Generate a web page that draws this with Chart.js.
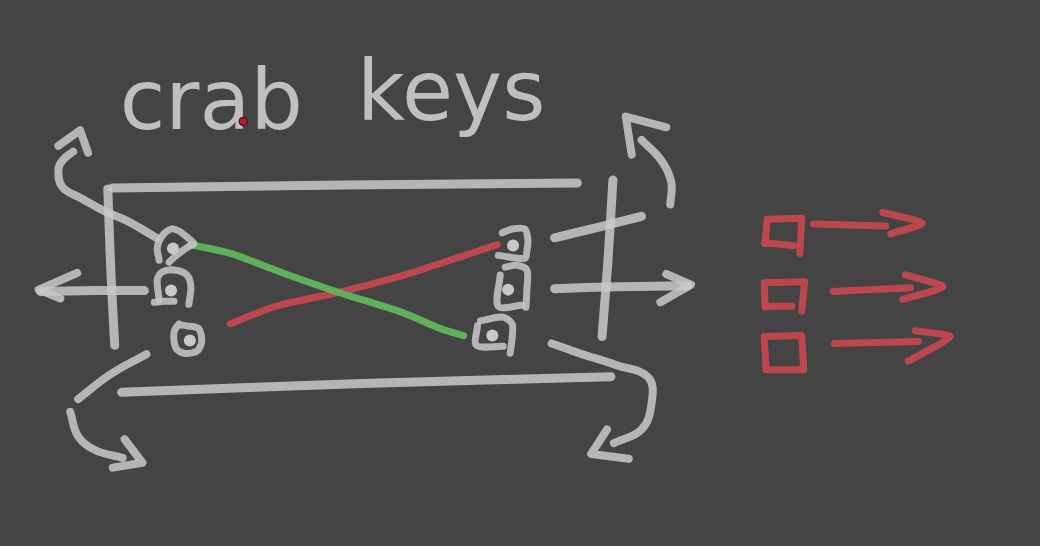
<!DOCTYPE html>
<html>
<head>
<meta charset="utf-8">
<script src="https://cdn.jsdelivr.net/npm/chart.js@4"></script>
<style>
html,body{margin:0;padding:0;background:#444444;}
#wrap{width:1040px;height:546px;position:relative;}
</style>
</head>
<body>
<div id="wrap"><canvas id="c"></canvas></div>
<script>
// ---- data (sketch space: x 0..1040, y 0..546 from top) ----
const titleWords = ['crab', 'keys'];
const titleAnchors = [[115, 126], [355, 117]];

// gray frame strokes
const topRail = [[108,186],[340,183],[578,181]];
const bottomRail = [[117,395],[360,386],[612,379]];
const leftPost = [[103,187],[106,270],[110,347]];
const rightPost = [[614,178],[609,260],[603,338]];
const leftShaft = [[35,292],[90,291],[140,291]];
const leftHead = [[72,273],[33,290],[55,299]];
const rightShaft = [[555,289],[620,287],[690,286]];
const rightHead = [[668,274],[693,285],[662,303]];
const rightBar = [[555,237],[600,226],[643,215]];
const ulCurve = [[152,237],[123,220],[100,210],[77,197],[57,185],[53,167],[58,157],[68,149]];
const ulHead = [[53,143],[75,127],[83,150]];
const llUpper = [[142,356],[105,377],[73,402]];
const llCurve = [[65,415],[73,440],[90,454],[118,462]];
const llHead = [[120,443],[138,467],[108,472]];
const urCurve = [[672,203],[673,180],[663,158],[643,137]];
const urHead = [[633,152],[627,113],[668,124]];
const lrCurve = [[552,345],[580,355],[617,367],[650,380],[653,407],[643,433],[615,447]];
const lrHead = [[608,433],[592,458],[630,463]];

// key outlines
const keyA = [[155,260],[153,247],[158,235],[167,228],[175,230],[185,238],[190,243],[183,247],[170,257],[165,262]];
const keyB = [[155,300],[153,280],[158,272],[170,270],[183,275],[187,287],[185,305]];
const keyBBase = [[150,303],[160,302],[170,302]];
const keyC = [[175,325],[170,333],[172,350],[180,355],[193,353],[198,343],[195,330],[183,327],[176,326]];
const keyD = [[502,232],[512,228],[525,228],[528,240],[527,250],[525,258],[498,255]];
const keyE = [[505,267],[517,265],[527,270],[527,290],[526,308]];
const keyELeft = [[500,275],[498,307],[522,306]];
const keyF = [[480,322],[502,318],[512,325],[512,340],[510,355]];
const keyFLeft = [[477,327],[476,347],[503,348]];
const keyDots = [[169,248],[167,291],[186,342],[513,245],[508,290],[492,337]];

// coloured wires
const greenWire = [[187,244],[227,253],[280,273],[340,294],[400,313],[440,330],[463,337]];
const redWire = [[227,325],[273,307],[340,292],[400,276],[440,263],[473,252],[497,244]];

// red legend glyphs
const sq1 = [[768,243],[770,218],[805,217],[803,253]];
const sq1Base = [[767,242],[797,245]];
const arrow1 = [[817,223],[855,224],[890,225]];
const head1 = [[887,211],[927,222],[895,233]];
const sq2 = [[768,308],[767,283],[808,282],[805,312]];
const sq2Base = [[768,307],[795,307]];
const arrow2 = [[837,292],[875,290],[915,288]];
const head2 = [[910,275],[948,287],[907,300]];
const sq3 = [[767,338],[805,337],[807,372],[769,372],[767,338]];
const arrow3 = [[838,345],[880,344],[923,343]];
const head3 = [[920,332],[955,338],[913,363]];
const redDot = [[240,118]];

// ---- styles ----
const GRAY = 'rgba(200,200,200,0.86)';
const RED = 'rgba(196,72,80,0.95)';
const GREEN = 'rgba(96,182,92,0.95)';

function pts(a){ return a.map(p => ({x:p[0], y:p[1]})); }
function stroke(a, color, w, tension){
  return {type:'scatter', showLine:true, data:pts(a), borderColor:color, backgroundColor:color,
    borderWidth:w, pointRadius:0, pointHoverRadius:0, tension:tension||0,
    borderCapStyle:'round', borderJoinStyle:'round', clip:false};
}

const datasets = [];
[topRail, bottomRail, leftPost, rightPost, leftShaft, rightShaft, rightBar].forEach(s => datasets.push(stroke(s, GRAY, 9, 0.3)));
[leftHead, rightHead, ulHead, llHead, urHead, lrHead].forEach(s => datasets.push(stroke(s, GRAY, 8, 0)));
[ulCurve, llUpper, llCurve, urCurve, lrCurve].forEach(s => datasets.push(stroke(s, GRAY, 8, 0.4)));
[keyA, keyB, keyBBase, keyC, keyD, keyE, keyELeft, keyF, keyFLeft].forEach(s => datasets.push(stroke(s, GRAY, 7, 0.3)));
datasets.push({type:'scatter', data:pts(keyDots), pointRadius:6, pointBorderWidth:0, backgroundColor:'rgba(215,215,215,0.9)', clip:false});
datasets.push(stroke(greenWire, GREEN, 7, 0.3));
datasets.push(stroke(redWire, RED, 7, 0.3));
[sq1, sq1Base, sq2, sq2Base, sq3].forEach(s => datasets.push(stroke(s, RED, 7, 0)));
[arrow1, arrow2, arrow3].forEach(s => datasets.push(stroke(s, RED, 7, 0.3)));
[head1, head2, head3].forEach(s => datasets.push(stroke(s, RED, 7, 0.2)));
datasets.push({type:'scatter', data:pts(redDot), pointRadius:4, pointBorderWidth:1.5, backgroundColor:'#a8262c', borderColor:'#5a1012', clip:false});

const bgPlugin = {
  id:'bg',
  beforeDraw(chart){
    const ctx = chart.ctx;
    ctx.save(); ctx.fillStyle = '#444444'; ctx.fillRect(0,0,chart.width,chart.height); ctx.restore();
  }
};
const titlePlugin = {
  id:'handTitle',
  beforeDatasetsDraw(chart){
    const ctx = chart.ctx, xs = chart.scales.x, ys = chart.scales.y;
    ctx.save();
    ctx.fillStyle = 'rgba(205,205,205,0.9)';
    ctx.font = '83px "DejaVu Sans"';
    ctx.textBaseline = 'alphabetic';
    titleWords.forEach((w,i) => {
      ctx.fillText(w, xs.getPixelForValue(titleAnchors[i][0]), ys.getPixelForValue(titleAnchors[i][1]));
    });
    ctx.restore();
  }
};

new Chart(document.getElementById('c'), {
  type:'scatter',
  data:{datasets},
  options:{
    responsive:true, maintainAspectRatio:false, animation:false,
    layout:{padding:0},
    events:[],
    plugins:{legend:{display:false}, tooltip:{enabled:false}, title:{display:false}},
    scales:{
      x:{type:'linear', min:0, max:1040, display:false},
      y:{type:'linear', min:0, max:546, reverse:true, display:false}
    }
  },
  plugins:[bgPlugin, titlePlugin]
});
</script>
</body>
</html>
